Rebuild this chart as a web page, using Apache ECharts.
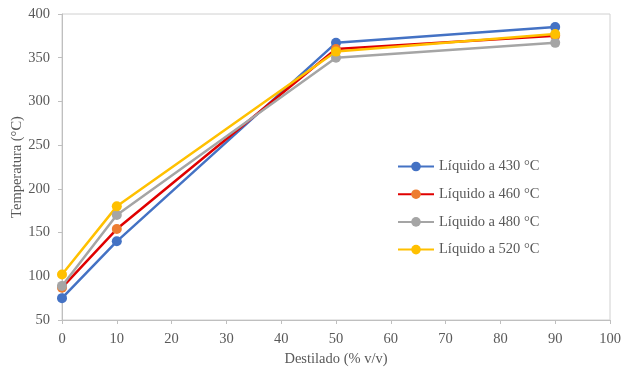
<!DOCTYPE html>
<html><head><meta charset="utf-8">
<script src="https://cdn.jsdelivr.net/npm/echarts@6/dist/echarts.min.js"></script>
<style>html,body{margin:0;padding:0;background:#fff}#c{width:622px;height:369px}</style>
</head><body><div id="c"></div>
<script>
const xValues = [0, 10, 50, 90];
const seriesNames = ['Líquido a 430 °C', 'Líquido a 460 °C', 'Líquido a 480 °C', 'Líquido a 520 °C'];
const s430 = [75, 140, 367, 385];
const s460 = [87, 154, 360, 375];
const s480 = [89, 170, 350, 367];
const s520 = [102, 180, 357, 377];
const lineColors = ['#4472c4', '#e00000', '#a5a5a5', '#ffc000'];
const markerColors = ['#4472c4', '#ed7d31', '#a5a5a5', '#ffc000'];

const allData = [s430, s460, s480, s520];
const txt = '#595959';
const font = 'Liberation Serif';
const chart = echarts.init(document.getElementById('c'));
chart.setOption({
  animation: false,
  grid: {left: 62, right: 12, top: 14, bottom: 49, show: true, borderColor: '#d0d0d0', borderWidth: 1,
         containLabel: false, outerBoundsMode: 'none'},
  legend: {
    orient: 'vertical', left: 392, top: 154, itemGap: 12.7, itemWidth: 36, itemHeight: 12,
    textStyle: {color: txt, fontFamily: font, fontSize: 14.5},
    data: seriesNames
  },
  xAxis: {
    type: 'value', min: 0, max: 100, interval: 10,
    name: 'Destilado (% v/v)', nameLocation: 'middle', nameGap: 32,
    nameTextStyle: {color: txt, fontFamily: font, fontSize: 14.5},
    axisLine: {lineStyle: {color: '#bfbfbf'}},
    axisTick: {show: true, length: 4, lineStyle: {color: '#bfbfbf'}},
    axisLabel: {color: txt, fontFamily: font, fontSize: 14.5, margin: 12},
    splitLine: {show: false}
  },
  yAxis: {
    type: 'value', min: 50, max: 400, interval: 50,
    name: 'Temperatura (°C)', nameLocation: 'middle', nameGap: 37, nameMoveOverlap: false,
    nameTextStyle: {color: txt, fontFamily: font, fontSize: 14.5},
    axisLine: {show: true, lineStyle: {color: '#bfbfbf'}},
    axisTick: {show: true, length: 4, lineStyle: {color: '#bfbfbf'}},
    axisLabel: {color: txt, fontFamily: font, fontSize: 14.5, margin: 12},
    splitLine: {show: false}
  },
  series: seriesNames.map((n, i) => ({
    name: n, type: 'line',
    data: xValues.map((x, j) => [x, allData[i][j]]),
    symbol: 'circle', symbolSize: 10,
    lineStyle: {color: lineColors[i], width: 2.5},
    itemStyle: {color: markerColors[i]},
    emphasis: {disabled: true}
  }))
});
</script></body></html>
